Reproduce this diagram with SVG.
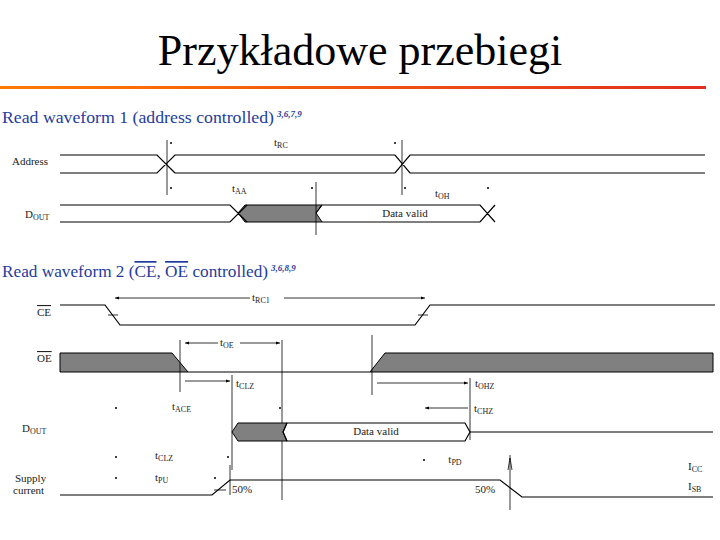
<svg xmlns="http://www.w3.org/2000/svg" width="720" height="540" viewBox="0 0 720 540">
<style>
.w{fill:none;stroke:#000;stroke-width:1.2}
.t{stroke:#000;stroke-width:0.8;fill:none}
.g{fill:#808080;stroke:#000;stroke-width:1}
.s{font-family:"Liberation Serif",serif;font-size:11px;fill:#222}
.h{font-family:"Liberation Serif",serif;fill:#1f3c9c}
.sup{font-size:9px;font-style:italic;font-weight:bold}
</style>
<defs>
<marker id="a" markerWidth="6" markerHeight="6" refX="5" refY="3" orient="auto-start-reverse"><path d="M0,1 L5,3 L0,5z" fill="#000"/></marker>
<linearGradient id="rl" x1="0" x2="1"><stop offset="0" stop-color="#ff7a00"/><stop offset="1" stop-color="#e03020"/></linearGradient>
</defs>
<rect width="720" height="540" fill="#fff"/>
<text x="360" y="65" text-anchor="middle" font-family="Liberation Serif,serif" font-size="44" fill="#000">Przykładowe przebiegi</text>
<rect x="0" y="86" width="706" height="3" fill="url(#rl)"/>

<g id="heading1"><text x="2" y="123" class="h" font-size="17" textLength="272" lengthAdjust="spacingAndGlyphs">Read waveform 1 (address controlled)</text><text x="277" y="117" class="h sup">3,6,7,9</text></g>

<g id="address">
<text x="12" y="165" class="s">Address</text>
<path class="w" d="M60,155 H157 L175,173 M60,173 H157 L175,155 H395 L410,173 H705 M175,173 H395 L410,155 H705"/>
</g>
<g id="dout1">
<text x="25" y="218" class="s">D<tspan font-size="8" dy="2">OUT</tspan></text>
<path class="g" d="M238,213 L245,205 H322 L316,213 L322,222 H245 Z"/>
<path class="w" d="M60,205 H230 L247,222 M60,222 H230 L247,205 M316,213 L322,205 H480 L495,222 M322,222 H480 L495,205"/>
<text x="405" y="217" text-anchor="middle" class="s">Data valid</text>
</g>
<g id="timing1">
<path class="t" d="M167,140 V195 M402,140 V195 M316,182 V235"/>
<text x="274" y="146" class="s">t<tspan font-size="8" dy="2">RC</tspan></text>
<text x="232" y="192" class="s">t<tspan font-size="8" dy="2">AA</tspan></text>
<text x="435" y="197" class="s">t<tspan font-size="8" dy="2">OH</tspan></text>
<g fill="#000"><circle cx="171" cy="143" r="1"/><circle cx="395" cy="143" r="1"/><circle cx="171" cy="188" r="1"/><circle cx="312" cy="188" r="1"/><circle cx="405" cy="188" r="1"/><circle cx="488" cy="188" r="1"/></g>
</g>

<g id="heading2"><text x="2" y="277" class="h" font-size="17" textLength="266" lengthAdjust="spacingAndGlyphs">Read waveform 2 (<tspan text-decoration="overline">CE</tspan>, <tspan text-decoration="overline">OE</tspan> controlled)</text><text x="271" y="271" class="h sup">3,6,8,9</text></g>

<g id="ce">
<text x="37" y="316" class="s" text-decoration="overline">CE</text>
<path class="w" d="M60,305 H105 L120,325 H415 L430,305 H715"/>
<path class="t" d="M108,315 H118 M418,315 H428"/>
<path class="t" d="M115,298 H425" marker-start="url(#a)" marker-end="url(#a)"/>
<rect x="250" y="292" width="34" height="12" fill="#fff"/>
<text x="252" y="301" class="s">t<tspan font-size="8" dy="2">RC1</tspan></text>
</g>
<g id="oe">
<text x="37" y="362" class="s" text-decoration="overline">OE</text>
<path class="g" d="M60,353 H172 L188,372 H60 Z M370,372 L385,353 H713 V372 Z"/>
<path class="w" d="M188,372 H370"/>
</g>
<g id="timing2">
<path class="t" d="M180,340 V392 M282,340 V500 M372,335 V395 M232,375 V470 M470,378 V440 M230,465 V495 M510,455 V510"/>
<path class="t" d="M185,343 H280" marker-start="url(#a)" marker-end="url(#a)"/>
<rect x="218" y="337" width="22" height="12" fill="#fff"/>
<text x="220" y="346" class="s">t<tspan font-size="8" dy="2">OE</tspan></text>
<path class="t" d="M185,381 H230" marker-end="url(#a)"/>
<text x="236" y="387" class="s">t<tspan font-size="8" dy="2">CLZ</tspan></text>
<path class="t" d="M377,383 H468" marker-end="url(#a)"/>
<text x="475" y="387" class="s">t<tspan font-size="8" dy="2">OHZ</tspan></text>
<text x="172" y="410" class="s">t<tspan font-size="8" dy="2">ACE</tspan></text>
<path class="t" d="M425,408 H468" marker-start="url(#a)"/>
<text x="474" y="412" class="s">t<tspan font-size="8" dy="2">CHZ</tspan></text>
<text x="155" y="459" class="s">t<tspan font-size="8" dy="2">CLZ</tspan></text>
<text x="455" y="463" class="s" text-anchor="middle">t<tspan font-size="8" dy="2">PD</tspan></text>
<text x="155" y="481" class="s">t<tspan font-size="8" dy="2">PU</tspan></text>
<g fill="#000"><circle cx="116" cy="408" r="1"/><circle cx="280" cy="408" r="1"/><circle cx="116" cy="457" r="1"/><circle cx="228" cy="457" r="1"/><circle cx="424" cy="460" r="1"/><circle cx="116" cy="478" r="1"/><circle cx="215" cy="478" r="1"/></g>
<path class="t" d="M512,470 L510,458 L508,470"/>
</g>
<g id="dout2">
<text x="22" y="432" class="s">D<tspan font-size="8" dy="2">OUT</tspan></text>
<path class="g" d="M232,432 L238,423 H287 L283,432 L287,441 H238 Z"/>
<path class="w" d="M283,432 L287,423 H465 L470,432 L465,441 H287 Z M470,432 H713"/>
<text x="376" y="435" text-anchor="middle" class="s">Data valid</text>
</g>
<g id="supply">
<text x="15" y="482" class="s">Supply</text>
<text x="13" y="494" class="s" font-size="8">current</text>
<path class="w" d="M60,495 H212 L230,480 H500 L522,497 H713"/>
<path class="t" d="M214,490 H226"/>
<text x="232" y="493" class="s">50%</text>
<text x="475" y="493" class="s">50%</text>
<text x="688" y="470" class="s">I<tspan font-size="8" dy="2">CC</tspan></text>
<text x="688" y="490" class="s">I<tspan font-size="8" dy="2">SB</tspan></text>
</g>
</svg>
